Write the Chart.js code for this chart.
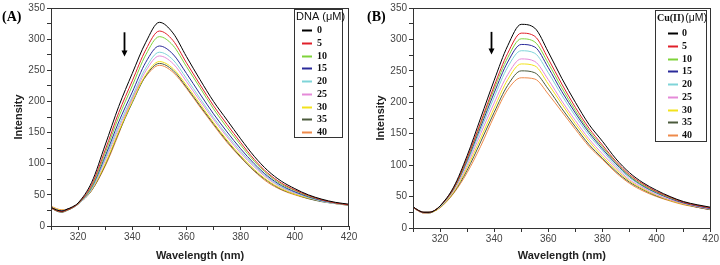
<!DOCTYPE html>
<html>
<head>
<meta charset="utf-8">
<script src="https://cdn.jsdelivr.net/npm/chart.js@4.4.0/dist/chart.umd.min.js"></script>
<style>
  body { margin: 0; background: #fff; }
  .row { display: flex; width: 720px; height: 265px; }
  canvas { display: block; }
</style>
</head>
<body>
<div class="row">
  <canvas id="panelA" width="360" height="265"></canvas>
  <canvas id="panelB" width="360" height="265"></canvas>
</div>
<script>
// wavelength grid (nm) and tick labels
var wavelengths = [310,312,314,316,318,320,325,330,335,340,345,350,355,360,365,370,375,380,385,390,395,400,405,410,415,420];
var xTickLabels = [320,340,360,380,400,420];
var yTickLabels = [0,50,100,150,200,250,300,350];
var concentrations = ['0','5','10','15','20','25','30','35','40'];

// (A) titration with DNA
var dna0  = [30,26,24,27,31,37,70,130,192,245,295,327,310,272,235,200,170,140,112,89,72,60,50,43,38,35];
var dna5  = [29,25,23,26,30,36,66,122,182,233,283,313,298,262,227,193,163,134,107,85,69,58,49,42,37,34];
var dna10 = [29,25,23,26,30,36,63,117,175,225,275,304,290,256,222,188,158,130,104,83,67,57,48,42,37,34];
var dna15 = [30,25,24,27,30,36,62,112,167,215,263,289,276,245,212,180,151,124,100,80,65,55,47,41,37,34];
var dna20 = [30,26,24,27,30,35,60,108,161,208,254,279,267,237,205,174,146,120,97,78,63,54,46,40,36,34];
var dna25 = [30,26,24,27,30,35,59,105,157,204,249,273,261,232,201,171,143,117,95,76,62,53,46,40,36,34];
var dna30 = [31,27,25,27,30,35,58,100,152,200,243,264,253,226,196,166,138,113,91,73,60,51,45,40,36,34];
var dna35 = [29,24,22,25,29,35,57,98,150,198,241,261,250,223,193,164,136,111,89,72,59,51,44,39,36,33];
var dna40 = [32,28,26,27,30,35,57,96,148,205,240,258,247,221,191,162,134,110,88,70,58,50,44,40,36,34];

// (B) titration with Cu(II)
var cu0  = [34,28,25,25,28,35,65,115,175,235,290,324,318,280,238,200,165,138,110,88,72,60,50,42,37,33];
var cu5  = [33,28,25,25,28,35,63,111,168,226,278,310,305,269,229,192,159,132,106,85,70,58,49,41,36,32];
var cu10 = [33,28,25,25,28,35,62,109,165,221,271,301,296,262,223,187,155,129,104,83,68,57,48,41,36,32];
var cu15 = [33,28,25,25,28,35,62,107,161,215,264,292,288,255,217,183,152,126,102,82,67,56,47,40,35,31];
var cu20 = [33,28,25,25,28,34,61,104,156,208,256,282,278,247,211,178,148,123,99,80,66,55,47,40,35,31];
var cu25 = [33,27,24,25,28,34,59,100,150,199,244,269,265,236,202,171,142,118,96,77,64,53,45,39,34,30];
var cu30 = [33,27,24,25,27,33,57,96,143,191,236,261,258,229,197,166,138,114,93,75,62,52,44,38,34,30];
var cu35 = [33,27,24,24,27,33,56,92,137,184,227,250,247,221,190,161,133,111,90,73,61,51,44,38,33,29];
var cu40 = [33,27,24,24,27,32,55,88,130,178,220,239,237,213,185,157,130,109,88,71,59,50,43,37,33,29];

var lineColors = ['#000000','#e0202a','#7fd33a','#2a2a9a','#7fd4d8','#e58ad8','#f2e21c','#4b5a3c','#ee8a4a'];

var panelDecor = {
  id: 'panelDecor',
  afterDraw: function (chart, args, o) {
    var ctx = chart.ctx, a = chart.chartArea, x = chart.scales.x, y = chart.scales.y;
    ctx.save();
    // frame around the plot
    ctx.strokeStyle = '#333';
    ctx.lineWidth = 1;
    ctx.strokeRect(Math.round(a.left) + 0.5, Math.round(a.top) + 0.5,
                   Math.round(a.right - a.left) - 1, Math.round(a.bottom - a.top));
    // panel letter
    ctx.fillStyle = '#000';
    ctx.font = 'bold 14px "Liberation Serif"';
    ctx.textAlign = 'left';
    ctx.textBaseline = 'alphabetic';
    ctx.fillText(o.label, o.labelX, 21);
    // arrow
    var ax = Math.round(x.getPixelForValue(o.arrow[0])) + 0.5;
    var y1 = y.getPixelForValue(o.arrow[1]), y2 = y.getPixelForValue(o.arrow[2]);
    ctx.strokeStyle = '#000';
    ctx.lineWidth = 1.8;
    ctx.beginPath(); ctx.moveTo(ax, y1); ctx.lineTo(ax, y2 - 4); ctx.stroke();
    ctx.beginPath(); ctx.moveTo(ax - 3, y2 - 6); ctx.lineTo(ax + 3, y2 - 6); ctx.lineTo(ax, y2); ctx.closePath();
    ctx.fillStyle = '#000'; ctx.fill();
    // legend box
    var b = o.box;
    ctx.fillStyle = '#fff';
    ctx.fillRect(b.x, b.y, b.w, b.h);
    ctx.strokeStyle = '#333';
    ctx.lineWidth = 1;
    ctx.strokeRect(b.x + 0.5, b.y + 0.5, b.w, b.h);
    ctx.fillStyle = '#111';
    ctx.textBaseline = 'middle';
    var tx = b.x + b.titleX;
    if (o.titleBold) {
      ctx.font = 'bold 10px "Liberation Serif"';
      ctx.fillText(o.titleBold, tx, b.y + 8);
      tx += ctx.measureText(o.titleBold).width + 1;
    }
    ctx.font = o.titleFont;
    ctx.fillText(o.title, tx, b.y + 8);
    chart.data.datasets.forEach(function (ds, i) {
      var ry = Math.round(b.y + b.firstRow + i * b.rowGap) + 0.5;
      ctx.strokeStyle = ds.borderColor;
      ctx.lineWidth = 2;
      ctx.beginPath(); ctx.moveTo(b.x + b.lineX, ry); ctx.lineTo(b.x + b.lineX + 10, ry); ctx.stroke();
      ctx.fillStyle = '#111';
      ctx.font = 'bold 10px "Liberation Serif"';
      ctx.fillText(ds.label, b.x + b.textX, ry);
    });
    ctx.restore();
  }
};

function makePanel(id, series, decor, geom) {
  var datasets = series.map(function (vals, i) {
    return {
      label: concentrations[i],
      data: wavelengths.map(function (w, j) { return { x: w, y: vals[j] }; }),
      borderColor: lineColors[i],
      borderWidth: 1,
      pointRadius: 0,
      cubicInterpolationMode: 'monotone',
      fill: false
    };
  });
  return new Chart(document.getElementById(id), {
    type: 'line',
    data: { datasets: datasets },
    plugins: [panelDecor],
    options: {
      responsive: false,
      animation: false,
      devicePixelRatio: 1,
      layout: { padding: { left: 0, right: geom.right, top: geom.top, bottom: 0 } },
      plugins: { legend: { display: false }, tooltip: { enabled: false }, panelDecor: decor },
      scales: {
        x: {
          type: 'linear', min: 310, max: 420,
          afterFit: function (s) { s.height = geom.xh; },
          grid: { display: true, drawOnChartArea: false, drawTicks: true, tickLength: 4, color: '#333' },
          border: { display: true, color: '#333' },
          ticks: {
            stepSize: 10, autoSkip: false, maxRotation: 0, padding: 1,
            color: '#444', font: { family: 'Liberation Sans', size: 10 },
            callback: function (v) { return xTickLabels.indexOf(v) >= 0 ? String(v) : ''; }
          },
          title: { display: true, text: 'Wavelength (nm)', color: '#222',
                   font: { family: 'Liberation Sans', size: 11, weight: 'bold' }, padding: { top: 0, bottom: 2 } }
        },
        y: {
          min: 0, max: 350,
          afterFit: function (s) { s.width = geom.yw; },
          grid: { display: true, drawOnChartArea: false, drawTicks: true, tickLength: 4, color: '#333' },
          border: { display: true, color: '#333' },
          ticks: {
            stepSize: 25, autoSkip: false, padding: 2,
            color: '#444', font: { family: 'Liberation Sans', size: 10 },
            callback: function (v) { return yTickLabels.indexOf(v) >= 0 ? String(v) : ''; }
          },
          title: { display: true, text: 'Intensity', color: '#222',
                   font: { family: 'Liberation Sans', size: 11, weight: 'bold' }, padding: { top: geom.ytp, bottom: 0 } }
        }
      }
    }
  });
}

makePanel('panelA', [dna0, dna5, dna10, dna15, dna20, dna25, dna30, dna35, dna40], {
  label: '(A)', labelX: 2, arrow: [337, 311, 272],
  title: 'DNA (\u03bcM)', titleFont: '11px "Liberation Sans"',
  box: { x: 294, y: 9, w: 48, h: 128, titleX: 2, lineX: 8, textX: 23, firstRow: 21, rowGap: 12.75 }
}, { right: 11, top: 5, xh: 39, yw: 51, ytp: 12 });

makePanel('panelB', [cu0, cu5, cu10, cu15, cu20, cu25, cu30, cu35, cu40], {
  label: '(B)', labelX: 7, arrow: [339, 312, 276],
  titleBold: 'Cu(II)', title: '(\u03bcM)', titleFont: '10.5px "Liberation Sans"',
  box: { x: 295, y: 10, w: 51, h: 131, titleX: 2, lineX: 13, textX: 27, firstRow: 23, rowGap: 12.75 }
}, { right: 9, top: 7, xh: 37, yw: 53, ytp: 14 });
</script>
</body>
</html>
